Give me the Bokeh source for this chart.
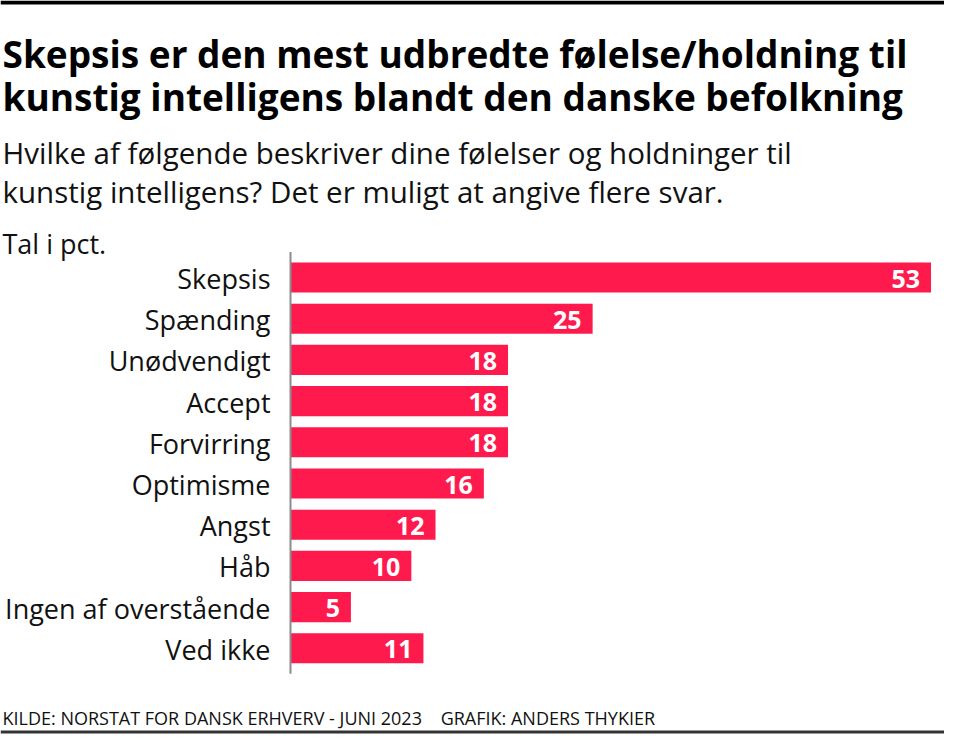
from bokeh.plotting import figure
from bokeh.models import ColumnDataSource, Range1d, BoxAnnotation
from bokeh.core.properties import value
from bokeh.embed import file_html
from bokeh.resources import INLINE

categories = ["Skepsis", "Spænding", "Unødvendigt", "Accept", "Forvirring",
              "Optimisme", "Angst", "Håb", "Ingen af overstående", "Ved ikke"]
values = [53, 25, 18, 18, 18, 16, 12, 10, 5, 11]
value_labels = [str(v) for v in values]

title_lines = ["Skepsis er den mest udbredte følelse/holdning til",
               "kunstig intelligens blandt den danske befolkning"]
subtitle_lines = ["Hvilke af følgende beskriver dine følelser og holdninger til",
                  "kunstig intelligens? Det er muligt at angive flere svar."]
unit_text = "Tal i pct."
footer_text = ("KILDE: NORSTAT FOR DANSK ERHVERV - JUNI 2023"
               "\u00a0\u00a0\u00a0\u00a0GRAFIK: ANDERS THYKIER")

W, H = 944, 735
AXIS_X = 290          # pixel position of the value axis (zero line)
PX_PER_PCT = 12.085   # horizontal scale
FIRST_ROW = 277       # pixel centre of the first category row
ROW = 41.2            # pixel spacing between rows
PAD = 0.12            # extra axis length above/below the rows (in rows)

FONT = "Open Sans"
BAR = "#ff1a4d"
INK = "#111111"

idx = list(range(len(categories)))
src = ColumnDataSource(dict(idx=idx, cat=categories, val=values, lab=value_labels))

x_start = -AXIS_X / PX_PER_PCT
x_end = (W - AXIS_X) / PX_PER_PCT
y_top = -FIRST_ROW / ROW
y_bottom = y_top + H / ROW

p = figure(width=W, height=H, output_backend="svg", toolbar_location=None,
           x_range=Range1d(x_start, x_end), y_range=Range1d(y_bottom, y_top),
           min_border=0, min_border_left=0, min_border_right=0,
           min_border_top=0, min_border_bottom=0)
p.title.visible = False
p.outline_line_color = None
p.xgrid.visible = False
p.ygrid.visible = False
p.xaxis.visible = False
p.yaxis.visible = False
p.background_fill_color = "white"
p.border_fill_color = "white"


def ypx(py):
    """pixel row (from top of the canvas) -> y data value"""
    return y_top + py / ROW


# bars
p.hbar(y="idx", right="val", left=0, height=0.73, source=src,
       fill_color=BAR, line_color=None)

# value axis line
n = len(categories)
p.segment(x0=0, x1=0, y0=-0.5 - PAD, y1=n - 0.5 + PAD,
          line_color="#8c8c8c", line_width=2)

# category labels
p.text(x=0, y="idx", text="cat", source=src, x_offset=-20, y_offset=1,
       text_align="right", text_baseline="middle", text_color=INK,
       text_font=value(FONT), text_font_size="27px")

# value labels
p.text(x="val", y="idx", text="lab", source=src, x_offset=-11, y_offset=1,
       text_align="right", text_baseline="middle", text_color="white",
       text_font=value(FONT), text_font_style="bold", text_font_size="25px")

# header / footer texts (left aligned at the canvas edge)
x_left = x_start + 2 / PX_PER_PCT


def header(txt, py, size, style="normal", color=INK):
    p.text(x=[x_left], y=[ypx(py)], text=[txt], text_align="left",
           text_baseline="alphabetic", text_color=color,
           text_font=value(FONT), text_font_size=size, text_font_style=style)


header(title_lines[0], 53, "37px", "bold", "#000000")
header(title_lines[1], 96, "37px", "bold", "#000000")
header(subtitle_lines[0], 152, "29.5px")
header(subtitle_lines[1], 191, "29.5px")
header(unit_text, 243, "27px")
header(footer_text, 717, "18px")

# top black rule and bottom grey rule
p.add_layout(BoxAnnotation(top=ypx(0), bottom=ypx(4), fill_color="#000000",
                           fill_alpha=1, line_color=None))
p.add_layout(BoxAnnotation(top=ypx(730), bottom=ypx(733), fill_color="#333333",
                           fill_alpha=1, line_color=None))

open("out.html", "w").write(file_html(p, INLINE))
